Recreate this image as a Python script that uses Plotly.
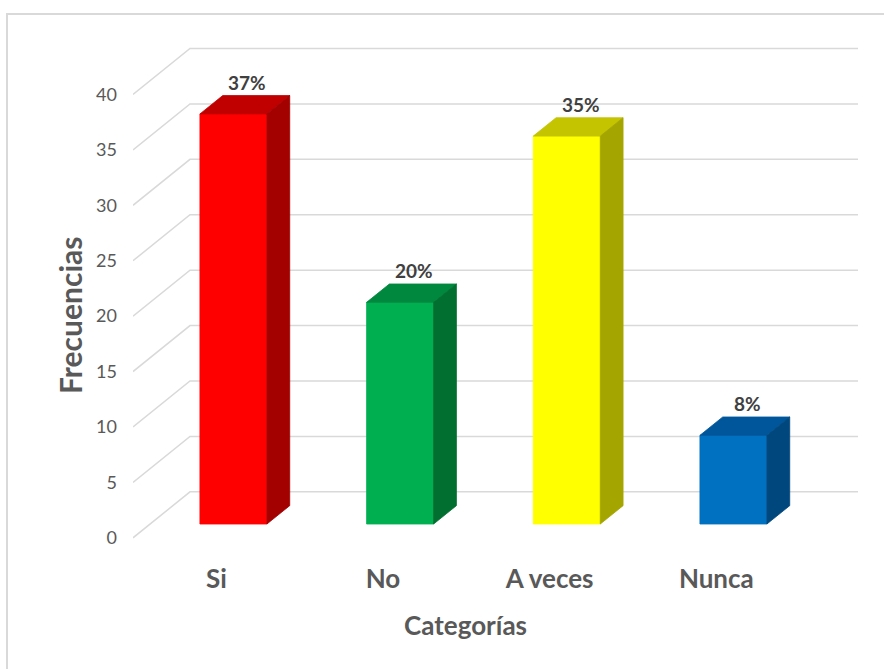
import plotly.graph_objects as go

# Survey results
categories = ["Si", "No", "A veces", "Nunca"]
frequencies = [37, 20, 35, 8]
percent_labels = ["37%", "20%", "35%", "8%"]
y_ticks = [0, 5, 10, 15, 20, 25, 30, 35, 40]

# Face colours per bar: front, top, side
front_colors = ["#FF0000", "#00B050", "#FFFF00", "#0070C0"]
top_colors = ["#C00000", "#00883F", "#C4C400", "#00569A"]
side_colors = ["#A30000", "#006F30", "#A5A500", "#00477E"]

# Oblique projection of the depth axis (in data units)
DX, DY = 0.342, 4.15          # front plane -> back wall
F, B = 0.30, 0.70             # bar front / back depth fractions
BAR_W = 0.402
X_MIN, X_MAX = -0.5, 3.85

fig = go.Figure()

# Back wall gridlines plus the receding lines on the left side
gx, gy = [], []
for v in y_ticks:
    gx += [X_MIN, X_MIN + DX, X_MAX, None]
    gy += [v, v + DY, v + DY, None]
fig.add_trace(go.Scatter(x=gx, y=gy, mode="lines",
                         line=dict(color="#D9D9D9", width=1.5),
                         hoverinfo="skip", showlegend=False))

# 3D-looking bars: front, top and right side faces
for i, (cat, v) in enumerate(zip(categories, frequencies)):
    xl = i - BAR_W / 2
    xr = i + BAR_W / 2
    fx, fy = F * DX, F * DY
    bx, by = B * DX, B * DY
    front_x = [xl + fx, xr + fx, xr + fx, xl + fx, xl + fx]
    front_y = [fy, fy, v + fy, v + fy, fy]
    top_x = [xl + fx, xr + fx, xr + bx, xl + bx, xl + fx]
    top_y = [v + fy, v + fy, v + by, v + by, v + fy]
    side_x = [xr + fx, xr + bx, xr + bx, xr + fx, xr + fx]
    side_y = [fy, by, v + by, v + fy, fy]
    for xs, ys, col in ((front_x, front_y, front_colors[i]),
                        (top_x, top_y, top_colors[i]),
                        (side_x, side_y, side_colors[i])):
        fig.add_trace(go.Scatter(x=xs, y=ys, mode="lines", fill="toself",
                                 fillcolor=col, line=dict(color=col, width=0.8),
                                 name=cat, hoverinfo="skip", showlegend=False))
    fig.add_annotation(x=i + fx + 0.084, y=v + by, text=percent_labels[i],
                       showarrow=False, yanchor="bottom", xanchor="center",
                       font=dict(family="Lato", size=19, color="#404040",
                                 weight="bold"))

# Axis titles
fig.add_annotation(xref="paper", yref="paper", x=0.459, y=-0.122,
                   xanchor="center", yanchor="middle",
                   text="Categorías", showarrow=False,
                   font=dict(family="Lato", size=26, color="#595959",
                             weight="bold"))
fig.add_annotation(xref="paper", yref="paper", x=-0.087, y=0.4605,
                   xanchor="center", yanchor="middle",
                   text="Frecuencias", showarrow=False, textangle=-90,
                   font=dict(family="Lato", size=30, color="#595959",
                             weight="bold"))

# Chart area outline
fig.add_shape(type="rect", xref="paper", yref="paper",
              x0=-0.1738, x1=1.2, y0=-0.4, y1=1.0263,
              line=dict(color="#D9D9D9", width=2))

fig.update_layout(
    width=884, height=669,
    margin=dict(l=133, r=26, t=28, b=109),
    paper_bgcolor="white", plot_bgcolor="white",
    font=dict(family="Lato", color="#595959"),
    xaxis=dict(range=[X_MIN, X_MAX], tickvals=list(range(len(categories))),
               ticktext=categories, showgrid=False, zeroline=False,
               showline=False, ticks="", ticklabelstandoff=1,
               tickfont=dict(family="Lato", size=26, color="#595959",
                             weight="bold")),
    yaxis=dict(range=[-2, 46], tickvals=y_ticks, showgrid=False,
               zeroline=False, showline=False, ticks="",
               ticklabelstandoff=15,
               tickfont=dict(family="Lato", size=18, color="#595959")),
)

fig.write_html("out.html")
